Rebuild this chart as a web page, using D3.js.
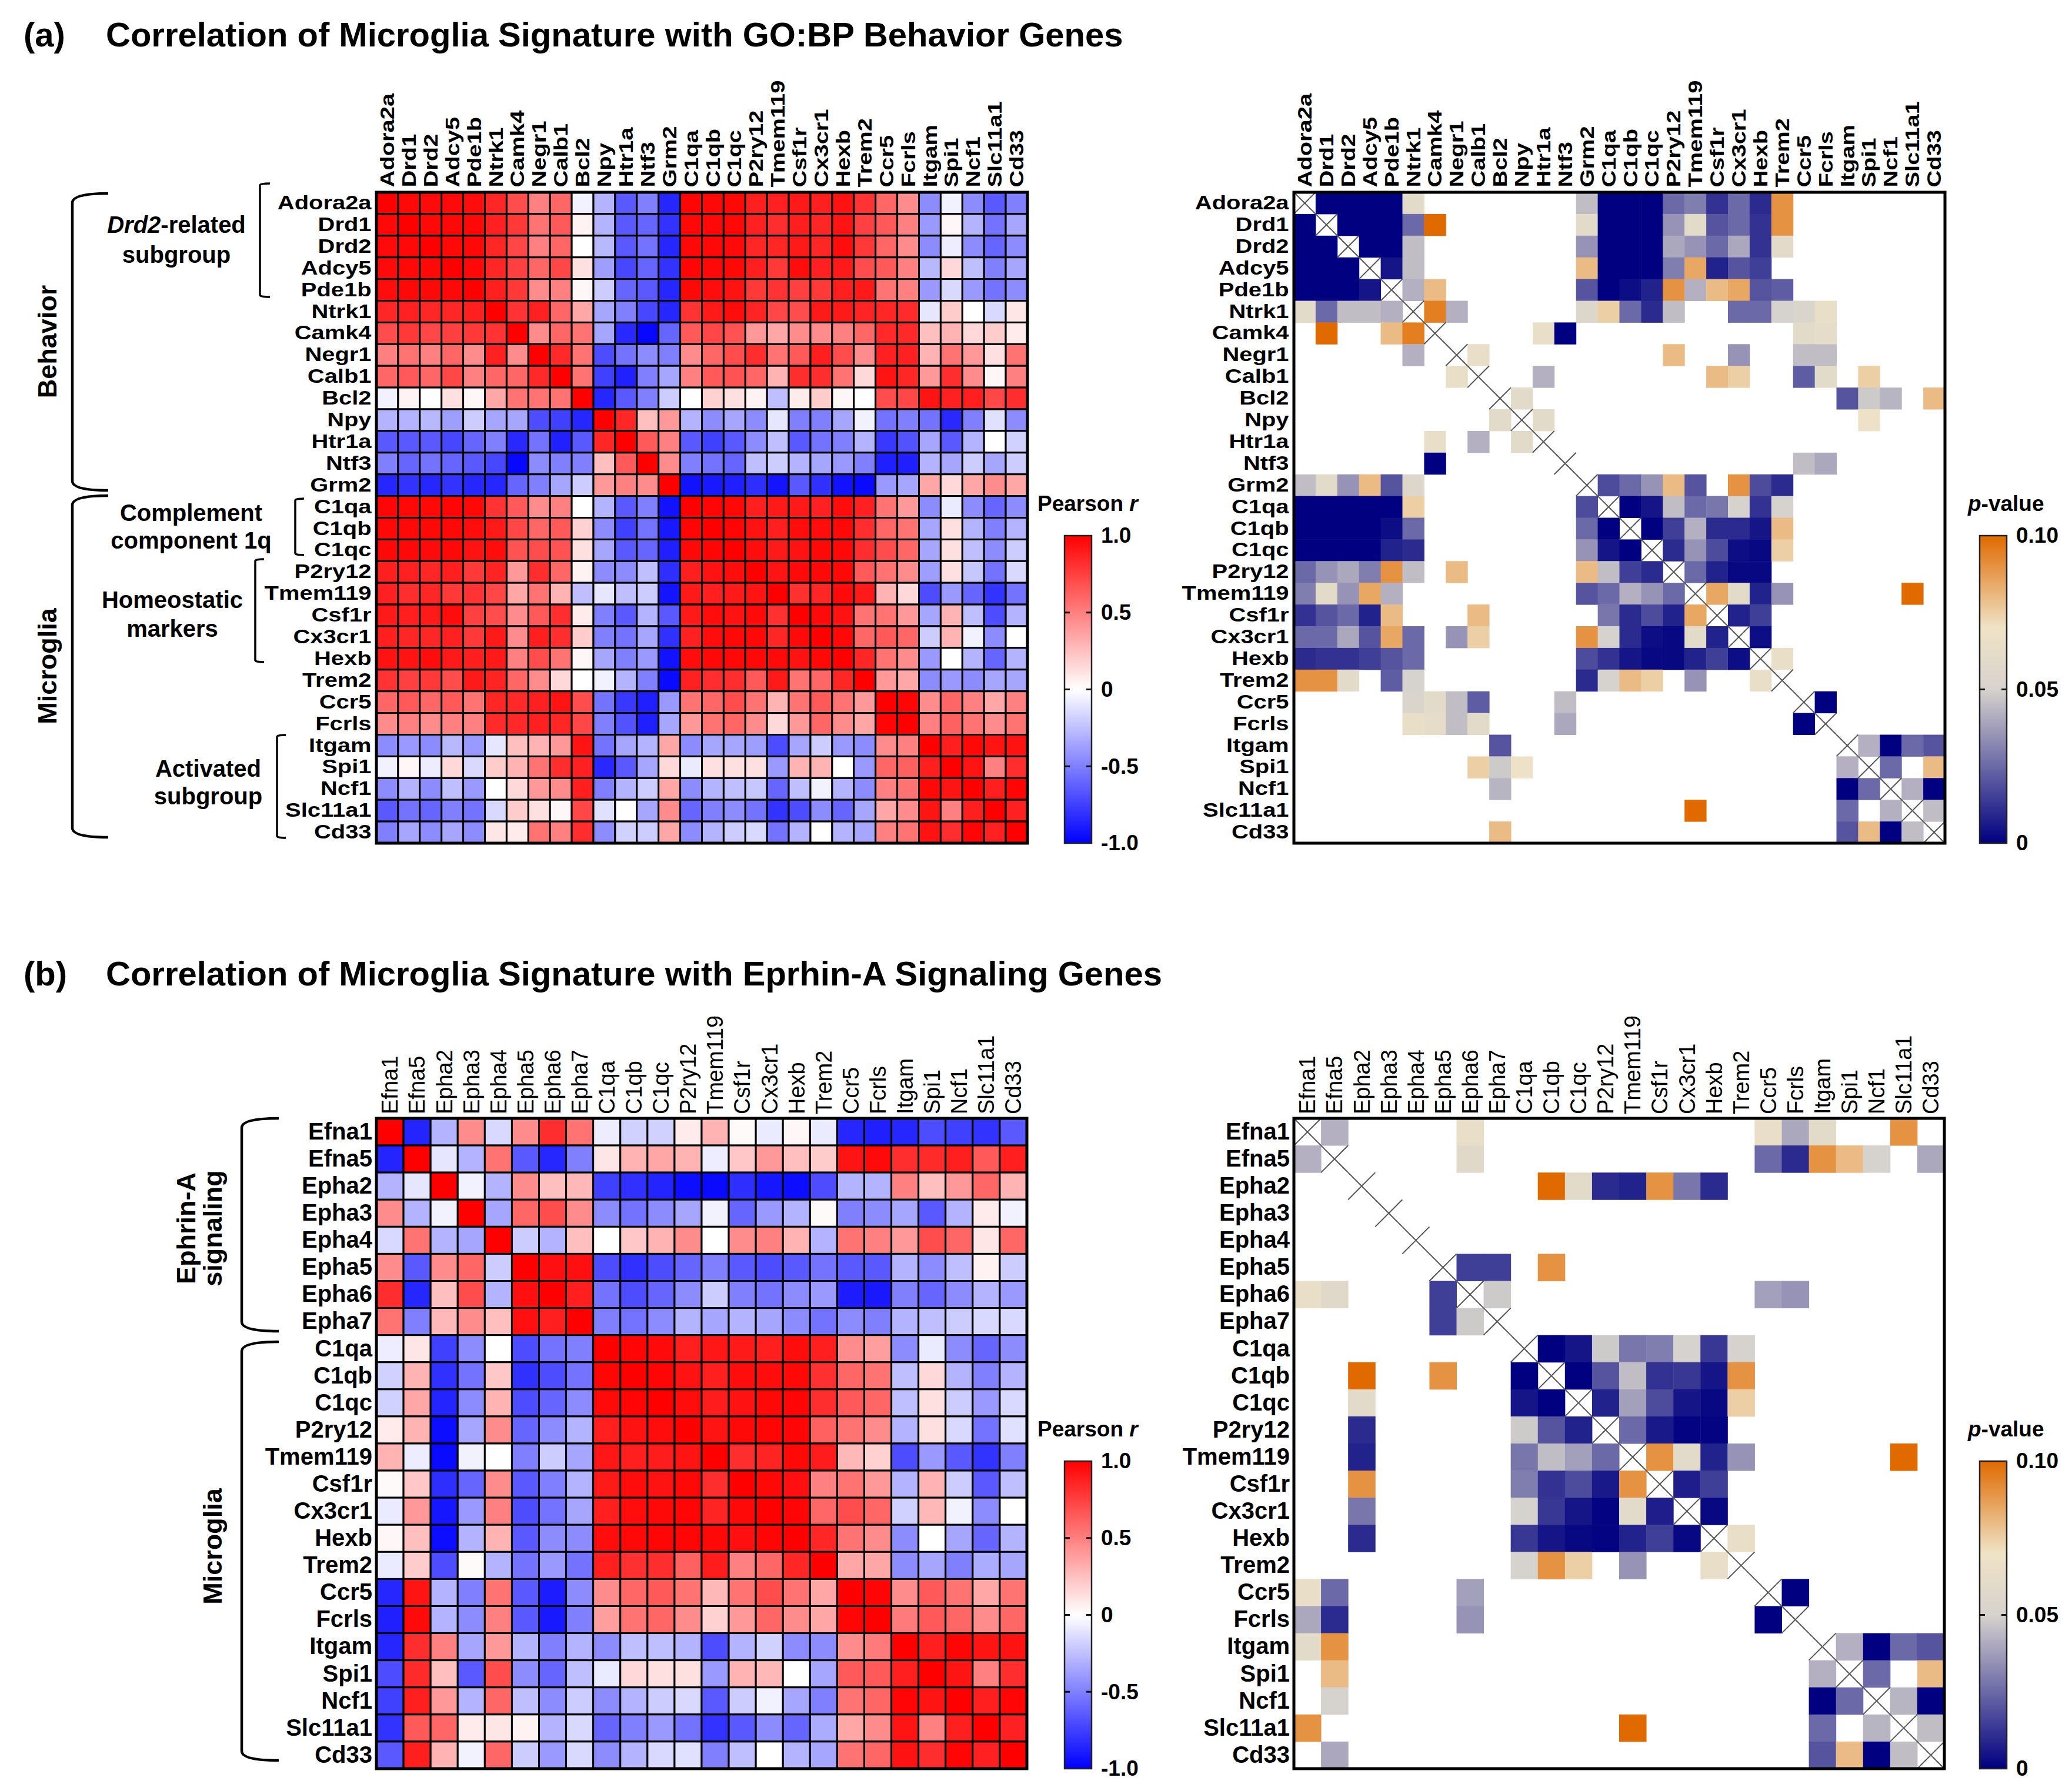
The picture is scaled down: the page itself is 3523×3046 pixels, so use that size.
<!DOCTYPE html>
<html>
<head>
<meta charset="utf-8">
<script src="https://cdn.jsdelivr.net/npm/d3@7"></script>
<style>
  body { margin: 0; background: #fff; }
  svg text { font-family: "Liberation Sans", Arial, sans-serif; fill: #000; }
</style>
</head>
<body>
<svg id="fig"></svg>
<script>
// ---- data ----
var genesA = ["Adora2a","Drd1","Drd2","Adcy5","Pde1b","Ntrk1","Camk4","Negr1","Calb1","Bcl2","Npy","Htr1a","Ntf3","Grm2",
  "C1qa","C1qb","C1qc","P2ry12","Tmem119","Csf1r","Cx3cr1","Hexb","Trem2","Ccr5","Fcrls","Itgam","Spi1","Ncf1","Slc11a1","Cd33"];
var genesB = ["Efna1","Efna5","Epha2","Epha3","Epha4","Epha5","Epha6","Epha7",
  "C1qa","C1qb","C1qc","P2ry12","Tmem119","Csf1r","Cx3cr1","Hexb","Trem2","Ccr5","Fcrls","Itgam","Spi1","Ncf1","Slc11a1","Cd33"];

// Pearson r, upper triangle, row i holds columns i+1 .. n-1
var rA = [
  [0.97,0.96,0.96,0.95,0.85,0.7,0.5,0.6,-0.05,-0.3,-0.65,-0.5,-0.85,0.98,0.97,0.97,0.88,0.87,0.9,0.88,0.93,0.8,0.6,0.45,-0.45,-0.05,-0.45,-0.65,-0.5],
  [0.97,0.97,0.97,0.87,0.78,0.55,0.65,0.05,-0.3,-0.65,-0.6,-0.8,0.97,0.97,0.97,0.87,0.82,0.88,0.85,0.92,0.75,0.65,0.5,-0.4,0.03,-0.3,-0.55,-0.35],
  [0.97,0.97,0.85,0.72,0.5,0.6,0.0,-0.28,-0.65,-0.55,-0.85,0.97,0.97,0.96,0.85,0.85,0.9,0.85,0.95,0.78,0.6,0.45,-0.45,-0.07,-0.45,-0.6,-0.45],
  [0.97,0.85,0.75,0.6,0.72,0.12,-0.38,-0.72,-0.6,-0.8,0.98,0.97,0.97,0.88,0.78,0.95,0.87,0.9,0.7,0.65,0.5,-0.28,0.15,-0.25,-0.5,-0.35],
  [0.88,0.78,0.45,0.5,0.03,-0.2,-0.6,-0.65,-0.85,0.97,0.95,0.93,0.78,0.8,0.75,0.78,0.88,0.9,0.55,0.5,-0.4,-0.15,-0.4,-0.55,-0.45],
  [0.8,0.87,0.6,0.35,-0.35,-0.5,-0.72,-0.85,0.8,0.9,0.95,0.86,0.72,0.7,0.9,0.9,0.86,0.85,0.83,-0.1,0.2,0.0,-0.15,0.1],
  [0.45,0.6,0.55,-0.35,-0.84,-0.97,-0.6,0.65,0.72,0.68,0.4,0.35,0.45,0.45,0.5,0.6,0.84,0.84,0.25,0.3,0.15,0.2,0.08],
  [0.84,0.55,-0.7,-0.55,-0.45,-0.5,0.45,0.6,0.7,0.82,0.55,0.65,0.88,0.7,0.45,0.87,0.87,0.3,0.55,0.4,0.12,0.55],
  [0.55,-0.75,-0.87,-0.5,-0.35,0.5,0.65,0.68,0.6,0.3,0.82,0.82,0.55,0.15,0.92,0.85,0.4,0.82,0.45,0.03,0.5],
  [-0.85,-0.65,-0.5,-0.2,0.0,0.18,0.12,0.05,-0.25,0.08,0.2,0.03,0.0,0.7,0.72,0.92,0.87,0.88,0.72,0.82],
  [0.85,0.25,0.4,-0.3,-0.45,-0.35,-0.45,-0.1,-0.5,-0.5,-0.35,-0.05,-0.55,-0.5,-0.55,-0.84,-0.5,-0.12,-0.45],
  [0.65,0.5,-0.65,-0.75,-0.65,-0.45,-0.25,-0.65,-0.55,-0.5,-0.3,-0.78,-0.68,-0.35,-0.65,-0.3,0.0,-0.18],
  [0.45,-0.5,-0.55,-0.6,-0.25,-0.2,-0.3,-0.35,-0.4,-0.5,-0.88,-0.88,-0.3,-0.35,-0.2,-0.35,-0.2],
  [-0.93,-0.9,-0.88,-0.82,-0.92,-0.65,-0.81,-0.93,-0.96,-0.4,-0.35,0.35,0.15,0.35,0.45,0.35],
  [0.98,0.97,0.88,0.9,0.9,0.87,0.95,0.87,0.55,0.4,-0.45,-0.08,-0.45,-0.6,-0.45],
  [0.98,0.93,0.88,0.95,0.95,0.97,0.82,0.6,0.55,-0.35,0.12,-0.3,-0.5,-0.3],
  [0.95,0.9,0.93,0.97,0.97,0.82,0.7,0.6,-0.35,0.12,-0.25,-0.45,-0.2],
  [0.92,0.96,0.97,0.97,0.65,0.55,0.45,-0.38,0.12,-0.22,-0.55,-0.15],
  [0.81,0.85,0.96,0.9,0.3,0.15,-0.7,-0.4,-0.6,-0.8,-0.55],
  [0.96,0.93,0.55,0.55,0.4,-0.35,0.3,-0.25,-0.7,-0.3],
  [0.97,0.6,0.65,0.6,-0.2,0.3,-0.05,-0.45,0.0],
  [0.85,0.55,0.45,-0.4,0.0,-0.3,-0.6,-0.3],
  [0.4,0.35,-0.45,-0.4,-0.45,-0.35,-0.35],
  [0.98,0.45,0.6,0.5,0.35,0.5],
  [0.5,0.62,0.55,0.45,0.55],
  [0.88,0.97,0.92,0.93],
  [0.92,0.5,0.82],
  [0.88,0.98],
  [0.87]
];

var rB = [
  [-0.86,-0.3,0.45,-0.15,0.45,0.82,0.55,-0.07,-0.18,-0.18,0.08,0.3,0.02,-0.08,0.03,-0.08,-0.85,-0.88,-0.85,-0.7,-0.75,-0.8,-0.65],
  [-0.1,-0.3,0.55,-0.65,-0.85,-0.5,0.1,0.3,0.35,0.3,-0.07,0.22,0.4,0.25,0.2,0.92,0.96,0.82,0.83,0.88,0.65,0.88],
  [-0.05,-0.3,0.45,0.25,0.28,-0.75,-0.81,-0.86,-0.95,-0.96,-0.82,-0.91,-0.95,-0.7,-0.3,-0.3,0.5,0.25,0.4,0.6,0.3],
  [-0.35,0.6,0.7,0.45,-0.45,-0.55,-0.45,-0.35,-0.05,-0.6,-0.4,-0.3,0.02,-0.5,-0.45,-0.35,-0.65,-0.3,0.08,-0.05],
  [-0.2,-0.3,0.25,0.0,0.22,0.3,0.45,0.0,0.45,0.5,0.3,-0.3,0.55,0.5,0.4,0.7,0.6,0.1,0.6],
  [0.94,0.94,-0.7,-0.81,-0.7,-0.6,-0.5,-0.65,-0.7,-0.65,-0.55,-0.65,-0.65,-0.3,-0.45,-0.25,0.05,-0.2],
  [0.88,-0.55,-0.7,-0.6,-0.45,-0.2,-0.5,-0.55,-0.45,-0.4,-0.89,-0.9,-0.5,-0.6,-0.45,-0.3,-0.4],
  [-0.5,-0.55,-0.45,-0.3,-0.35,-0.3,-0.35,-0.45,-0.55,-0.45,-0.5,-0.3,-0.25,-0.2,-0.15,-0.15],
  [0.98,0.96,0.88,0.91,0.9,0.88,0.95,0.88,0.45,0.38,-0.45,-0.08,-0.45,-0.6,-0.45],
  [0.98,0.93,0.88,0.95,0.95,0.97,0.81,0.6,0.55,-0.25,0.15,-0.3,-0.5,-0.3],
  [0.95,0.89,0.93,0.97,0.98,0.82,0.65,0.6,-0.25,0.12,-0.2,-0.4,-0.15],
  [0.92,0.97,0.98,0.98,0.62,0.55,0.45,-0.3,0.12,-0.15,-0.55,-0.12],
  [0.82,0.86,0.97,0.89,0.28,0.18,-0.7,-0.4,-0.65,-0.8,-0.5],
  [0.97,0.94,0.5,0.55,0.4,-0.3,0.3,-0.2,-0.65,-0.25],
  [0.98,0.6,0.7,0.6,-0.18,0.28,-0.05,-0.45,0.0],
  [0.85,0.55,0.45,-0.45,0.0,-0.35,-0.6,-0.3],
  [0.35,0.35,-0.45,-0.35,-0.5,-0.33,-0.35],
  [0.98,0.45,0.65,0.55,0.35,0.55],
  [0.52,0.65,0.6,0.45,0.6],
  [0.88,0.98,0.92,0.93],
  [0.92,0.5,0.82],
  [0.88,0.98],
  [0.87]
];

// p-values shown (p <= 0.10), [row, col, p]; everything else is blank
var pA = [
  [0,1,0],[0,2,0],[0,3,0],[0,4,0],[0,5,.06],[0,13,.045],[0,14,0],[0,15,0],[0,16,0],[0,17,.025],[0,18,.03],[0,19,.012],[0,20,.025],[0,21,.01],[0,22,.09],
  [1,2,0],[1,3,0],[1,4,0],[1,5,.025],[1,6,.1],[1,13,.06],[1,14,0],[1,15,0],[1,16,0],[1,17,.035],[1,18,.06],[1,19,.02],[1,20,.025],[1,21,.012],[1,22,.09],
  [2,3,0],[2,4,0],[2,5,.045],[2,13,.035],[2,14,0],[2,15,0],[2,16,0],[2,17,.04],[2,18,.035],[2,19,.025],[2,20,.04],[2,21,.012],[2,22,.06],
  [3,4,.005],[3,5,.045],[3,13,.08],[3,14,0],[3,15,0],[3,16,0],[3,17,.03],[3,18,.085],[3,19,.008],[3,20,.02],[3,21,.015],
  [4,5,.042],[4,6,.08],[4,13,.02],[4,14,0],[4,15,.003],[4,16,.008],[4,17,.09],[4,18,.042],[4,19,.08],[4,20,.085],[4,21,.02],[4,22,.022],
  [5,6,.095],[5,7,.042],[5,13,.055],[5,14,.075],[5,15,.025],[5,16,.01],[5,17,.045],[5,20,.025],[5,21,.025],[5,22,.05],[5,23,.052],[5,24,.065],
  [6,11,.065],[6,12,0],[6,23,.06],[6,24,.062],
  [7,8,.065],[7,17,.08],[7,20,.035],[7,23,.045],[7,24,.045],
  [8,11,.042],[8,19,.08],[8,20,.075],[8,23,.022],[8,24,.06],[8,26,.075],
  [9,10,.06],[9,25,.02],[9,26,.048],[9,27,.043],[9,29,.08],
  [10,11,.06],[10,26,.068],
  [12,23,.045],[12,24,.04],
  [13,14,.018],[13,15,.025],[13,16,.035],[13,17,.08],[13,18,.02],[13,20,.09],[13,21,.018],[13,22,.01],
  [14,15,0],[14,16,.005],[14,17,.045],[14,18,.025],[14,19,.028],[14,20,.05],[14,21,.012],[14,22,.05],
  [15,16,0],[15,17,.015],[15,18,.042],[15,19,.01],[15,20,.01],[15,21,.005],[15,22,.08],
  [16,17,.01],[16,18,.035],[16,19,.018],[16,20,.003],[16,21,.002],[16,22,.075],
  [17,18,.025],[17,19,.008],[17,20,.002],[17,21,.002],
  [18,19,.085],[18,20,.06],[18,21,.008],[18,22,.035],[18,28,.1],
  [19,20,.008],[19,21,.015],
  [20,21,.003],
  [21,22,.065],
  [23,24,0],
  [25,26,.042],[25,27,0],[25,28,.025],[25,29,.02],
  [26,27,.025],[26,29,.08],
  [27,28,.042],[27,29,0],
  [28,29,.045]
];

var pB = [
  [0,1,.042],[0,6,.065],[0,17,.065],[0,18,.04],[0,19,.06],[0,22,.09],
  [1,6,.058],[1,17,.025],[1,18,.01],[1,19,.09],[1,20,.08],[1,21,.05],[1,23,.04],
  [2,9,.1],[2,10,.06],[2,11,.01],[2,12,.008],[2,13,.09],[2,14,.028],[2,15,.01],
  [5,6,.015],[5,7,.015],[5,9,.09],
  [6,7,.048],[6,17,.038],[6,18,.035],
  [8,9,0],[8,10,.005],[8,11,.048],[8,12,.028],[8,13,.03],[8,14,.05],[8,15,.013],[8,16,.05],
  [9,10,0],[9,11,.02],[9,12,.045],[9,13,.012],[9,14,.013],[9,15,.005],[9,16,.09],
  [10,11,.008],[10,12,.038],[10,13,.018],[10,14,.005],[10,15,.002],[10,16,.075],
  [11,12,.025],[11,13,.006],[11,14,.001],[11,15,.001],
  [12,13,.09],[12,14,.06],[12,15,.008],[12,16,.035],[12,22,.1],
  [13,14,.007],[13,15,.015],
  [14,15,.002],
  [15,16,.065],
  [17,18,0],
  [19,20,.042],[19,21,0],[19,22,.025],[19,23,.02],
  [20,21,.025],[20,23,.08],
  [21,22,.043],[21,23,0],
  [22,23,.045]
];

var rTicks = [1, 0.5, 0, -0.5, -1];
var rTickLabels = ["1.0", "0.5", "0", "-0.5", "-1.0"];
var pTicks = [0.1, 0.05, 0];
var pTickLabels = ["0.10", "0.05", "0"];

// ---- setup ----
var W = 3523, H = 3046;
var svg = d3.select("#fig").attr("width", W).attr("height", H);
var defs = svg.append("defs");

var rColor = d3.scaleLinear().domain([-1, 0, 1]).range(["#0000ff", "#ffffff", "#ff0000"]);
var pColor = d3.scaleLinear().domain([0, 0.05, 0.07, 0.1]).range(["#000080", "#d6d2cd", "#efe3c6", "#e06a00"]);

// build full symmetric matrices from the upper triangles
function rCells(genes, upper) {
  var cells = [];
  genes.forEach(function (gi, i) {
    genes.forEach(function (gj, j) {
      var v = i === j ? 1 : (i < j ? upper[i][j - i - 1] : upper[j][i - j - 1]);
      cells.push({ row: gi, col: gj, v: v });
    });
  });
  return cells;
}
function pCells(genes, trip) {
  var cells = [];
  trip.forEach(function (t) {
    cells.push({ row: genes[t[0]], col: genes[t[1]], v: t[2] });
    cells.push({ row: genes[t[1]], col: genes[t[0]], v: t[2] });
  });
  return cells;
}

// heatmap frame with gene labels drawn by band axes
// lab = {row: size, col: size, sx: horizontal stretch, colBold}
function frame(x0, y0, size, genes, lab) {
  var g = svg.append("g").attr("transform", `translate(${x0},${y0})`);
  var band = d3.scaleBand().domain(genes).range([0, size]);

  g.append("g")
    .call(d3.axisLeft(band).tickSize(0).tickPadding(7))
    .attr("font-family", null).attr("font-size", lab.row).attr("font-weight", "bold")
    .call(function (a) { a.select(".domain").remove(); })
    .selectAll("text")
    .attr("transform", `scale(${lab.sx},1)`);

  g.append("g")
    .call(d3.axisTop(band).tickSize(0))
    .attr("font-family", null).attr("font-size", lab.col).attr("font-weight", lab.colBold ? "bold" : "normal")
    .call(function (a) { a.select(".domain").remove(); })
    .selectAll("text")
    .attr("transform", `rotate(-90) scale(${lab.sx},1)`)
    .attr("x", 7).attr("y", 0).attr("dy", "0.35em")
    .style("text-anchor", "start");

  return { g: g, band: band, size: size };
}

function drawR(x0, y0, size, genes, upper, lab) {
  var f = frame(x0, y0, size, genes, lab);
  f.g.append("g").selectAll("rect")
    .data(rCells(genes, upper))
    .join("rect")
    .attr("x", d => f.band(d.col))
    .attr("y", d => f.band(d.row))
    .attr("width", f.band.bandwidth())
    .attr("height", f.band.bandwidth())
    .attr("fill", d => rColor(d.v))
    .attr("stroke", "#000")
    .attr("stroke-width", 3);
  f.g.append("rect").attr("width", size).attr("height", size)
    .attr("fill", "none").attr("stroke", "#000").attr("stroke-width", 5);
}

function drawP(x0, y0, size, genes, trip, lab) {
  var f = frame(x0, y0, size, genes, lab);
  var bw = f.band.bandwidth();
  f.g.append("g").selectAll("rect")
    .data(pCells(genes, trip))
    .join("rect")
    .attr("x", d => f.band(d.col))
    .attr("y", d => f.band(d.row))
    .attr("width", bw + 0.5)
    .attr("height", bw + 0.5)
    .attr("fill", d => pColor(d.v));
  // crossed-out diagonal
  var diag = f.g.append("g").attr("stroke", "#555").attr("stroke-width", 2);
  genes.forEach(function (gname) {
    var p = f.band(gname);
    diag.append("line").attr("x1", p).attr("y1", p).attr("x2", p + bw).attr("y2", p + bw);
    diag.append("line").attr("x1", p + bw).attr("y1", p).attr("x2", p).attr("y2", p + bw);
  });
  f.g.append("rect").attr("width", size).attr("height", size)
    .attr("fill", "none").attr("stroke", "#000").attr("stroke-width", 5);
}

// vertical colour bar with axis on the right
var gradId = 0;
function colorbar(x, y, w, h, color, domain, ticks, labels, innerTicks, titleParts) {
  var id = "grad" + (gradId++);
  var grad = defs.append("linearGradient").attr("id", id)
    .attr("x1", 0).attr("y1", 1).attr("x2", 0).attr("y2", 0);
  d3.range(0, 1.0001, 0.02).forEach(function (t) {
    grad.append("stop").attr("offset", t)
      .attr("stop-color", color(domain[0] + t * (domain[1] - domain[0])));
  });
  var g = svg.append("g").attr("transform", `translate(${x},${y})`);
  g.append("rect").attr("width", w).attr("height", h)
    .attr("fill", `url(#${id})`).attr("stroke", "#222").attr("stroke-width", 2.5);

  var s = d3.scaleLinear().domain(domain).range([h, 0]);
  g.append("g").attr("transform", `translate(${w},0)`)
    .call(d3.axisRight(s).tickValues(ticks).tickSize(0).tickPadding(16)
      .tickFormat((d, i) => labels[i]))
    .attr("font-family", null).attr("font-size", 37).attr("font-weight", "bold")
    .call(function (a) { a.select(".domain").remove(); });

  innerTicks.forEach(function (v) {
    g.append("line").attr("x1", 0).attr("x2", 9).attr("y1", s(v)).attr("y2", s(v))
      .attr("stroke", "#111").attr("stroke-width", 3);
    g.append("line").attr("x1", w - 9).attr("x2", w).attr("y1", s(v)).attr("y2", s(v))
      .attr("stroke", "#111").attr("stroke-width", 3);
  });

  var t = g.append("text").attr("x", titleParts.dx).attr("y", -42)
    .attr("font-size", 37).attr("font-weight", "bold");
  titleParts.parts.forEach(function (p) {
    t.append("tspan").attr("font-style", p[1] ? "italic" : "normal").text(p[0]);
  });
}

// curly-cornered bracket opening to the right
function bracket(x, y1, y2, w, r, sw) {
  svg.append("path")
    .attr("d", `M${x + w},${y1} Q${x},${y1} ${x},${y1 + r} L${x},${y2 - r} Q${x},${y2} ${x + w},${y2}`)
    .attr("fill", "none").attr("stroke", "#000").attr("stroke-width", sw);
}
// group labels; gap = distance between lines
function label(x, y, lines, size, rotate, gap) {
  gap = gap || 0;
  lines.forEach(function (ln, k) {
    var t = svg.append("text").attr("font-size", size).attr("font-weight", "bold")
      .attr("text-anchor", "middle");
    if (rotate) t.attr("transform", `translate(${x + k * gap},${y}) rotate(-90)`);
    else t.attr("x", x).attr("y", y + k * gap);
    (ln.parts || [[ln.text, false]]).forEach(function (p) {
      t.append("tspan").attr("font-style", p[1] ? "italic" : "normal").text(p[0]);
    });
  });
}

// ---- titles ----
function title(y, letter, text) {
  svg.append("text").attr("x", 40).attr("y", y).attr("font-size", 58).attr("font-weight", "bold").text(letter);
  svg.append("text").attr("x", 180).attr("y", y).attr("font-size", 58).attr("font-weight", "bold").text(text);
}
title(79, "(a)", "Correlation of Microglia Signature with GO:BP Behavior Genes");
title(1676, "(b)", "Correlation of Microglia Signature with Eprhin-A Signaling Genes");

// ---- panel (a) ----
var aY = 327, aSize = 1107;
var labA = { row: 33, col: 33, sx: 1.21, colBold: true };
drawR(640, aY, aSize, genesA, rA, labA);
drawP(2200, aY, aSize, genesA, pA, labA);
colorbar(1810, 911, 46, 523, rColor, [-1, 1], rTicks, rTickLabels, [0.5, 0, -0.5],
  { dx: -46, parts: [["Pearson ", false], ["r", true]] });
colorbar(3366, 911, 46, 523, pColor, [0, 0.1], pTicks, pTickLabels, [0.05],
  { dx: -20, parts: [["p", true], ["-value", false]] });

bracket(123, 329, 834, 61, 16, 4.5);
bracket(123, 843, 1424, 61, 16, 4.5);
label(96, 581, [{ text: "Behavior" }], 45, true);
label(96, 1133, [{ text: "Microglia" }], 45, true);

bracket(442, 312, 505, 17, 3, 3.5);
label(300, 396, [{ parts: [["Drd2", true], ["-related", false]] }, { text: "subgroup" }], 40, false, 51);
bracket(502, 848, 944, 15, 3, 3.5);
label(325, 886, [{ text: "Complement" }, { text: "component 1q" }], 40, false, 47);
bracket(434, 951, 1126, 15, 3, 3.5);
label(293, 1034, [{ text: "Homeostatic" }, { text: "markers" }], 40, false, 49);
bracket(471, 1250, 1425, 15, 3, 3.5);
label(354, 1321, [{ text: "Activated" }, { text: "subgroup" }], 40, false, 47);

// ---- panel (b) ----
var bY = 1902, bSize = 1106;
var labB = { row: 40, col: 38, sx: 1, colBold: false };
drawR(640, bY, bSize, genesB, rB, labB);
drawP(2200, bY, bSize, genesB, pB, labB);
colorbar(1810, 2485, 46, 523, rColor, [-1, 1], rTicks, rTickLabels, [0.5, 0, -0.5],
  { dx: -46, parts: [["Pearson ", false], ["r", true]] });
colorbar(3366, 2485, 46, 523, pColor, [0, 0.1], pTicks, pTickLabels, [0.05],
  { dx: -20, parts: [["p", true], ["-value", false]] });

bracket(411, 1902, 2264, 63, 16, 4.5);
bracket(411, 2282, 2994, 63, 16, 4.5);
label(332, 2089, [{ text: "Ephrin-A" }, { text: "signaling" }], 45, true, 45);
label(377, 2630, [{ text: "Microglia" }], 45, true);
</script>
</body>
</html>
